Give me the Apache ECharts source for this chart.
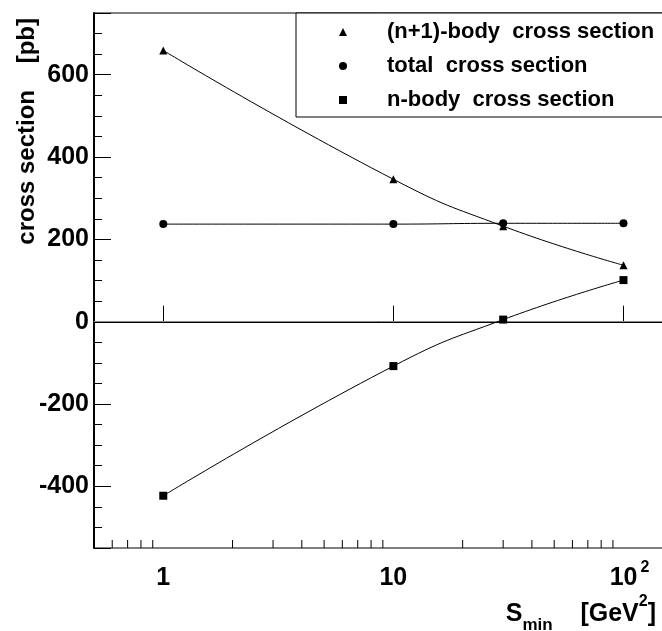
<!DOCTYPE html>
<html>
<head>
<meta charset="utf-8">
<script src="https://cdn.jsdelivr.net/npm/echarts@6/dist/echarts.min.js"></script>
<style>
html,body{margin:0;padding:0;background:#fff;}
#c{width:662px;height:631px;}
</style>
</head>
<body>
<div id="c"></div>
<script>
// ---- data ----
var sMin = [1, 10, 30, 100];
var nPlus1Body = [659, 346, 232, 137];
var totalXS = [237, 237, 239, 239];
var nBody = [-423, -108, 5, 101];
var seriesNames = ['(n+1)-body  cross section', 'total  cross section', 'n-body  cross section'];
var xMajorLabels = {1: '1', 10: '10', 100: '10^2'};
var xMinorTicks = [0.6, 0.7, 0.8, 0.9, 2, 3, 4, 5, 6, 7, 8, 9, 20, 30, 40, 50, 60, 70, 80, 90];
var yMin = -550, yMax = 750;

var FONT = '"Liberation Sans", Arial, Helvetica, sans-serif';
function pairs(xs, ys) { return xs.map(function (x, i) { return [x, ys[i]]; }); }

var chart = echarts.init(document.getElementById('c'), null, {renderer: 'canvas'});
var lineCommon = {
  type: 'line', smooth: true, symbolSize: 8, showSymbol: true,
  lineStyle: {color: '#000', width: 1}, itemStyle: {color: '#000'},
  emphasis: {disabled: true}, z: 3
};
chart.setOption({
  animation: false,
  backgroundColor: '#fff',
  grid: {left: 94, top: 13, width: 570, height: 535, show: true, borderColor: '#000', borderWidth: 1,
         containLabel: false, outerBoundsMode: 'none'},
  legend: {
    orient: 'vertical', left: 296, top: 13,
    padding: [8, 30, 6, 43],
    itemWidth: 8, itemHeight: 8, itemGap: 12,
    backgroundColor: '#fff', borderColor: '#000', borderWidth: 1, borderRadius: 0,
    selectedMode: false,
    formatter: function (name) { return '{gap| }' + name; },
    textStyle: {fontFamily: FONT, fontWeight: 'bold', fontSize: 22, color: '#000', lineHeight: 22,
      rich: {gap: {width: 35, fontSize: 22, lineHeight: 22}}},
    data: [
      {name: seriesNames[0], icon: 'triangle', itemStyle: {color: '#000'}},
      {name: seriesNames[1], icon: 'circle', itemStyle: {color: '#000'}},
      {name: seriesNames[2], icon: 'rect', itemStyle: {color: '#000'}}
    ]
  },
  xAxis: {
    type: 'log', logBase: 10, min: 0.5, max: 150,
    axisLine: {lineStyle: {color: '#000', width: 2}},
    axisTick: {inside: true, length: 16, lineStyle: {color: '#000', width: 1}},
    splitLine: {show: false},
    axisLabel: {
      margin: 12, color: '#000', fontFamily: FONT, fontWeight: 'bold', fontSize: 25,
      formatter: function (v) {
        for (var k in xMajorLabels) {
          if (Math.abs(v - Number(k)) < 1e-6 * Number(k)) {
            var t = xMajorLabels[k];
            if (t.indexOf('^') >= 0) { var p = t.split('^'); return '{pad| }{b|' + p[0] + '}{p|' + p[1] + '}'; }
            return '{b|' + t + '}';
          }
        }
        return '';
      },
      rich: {
        b: {fontFamily: FONT, fontWeight: 'bold', fontSize: 25, lineHeight: 36, color: '#000', verticalAlign: 'middle'},
        p: {fontFamily: FONT, fontWeight: 'bold', fontSize: 16, lineHeight: 10, color: '#000', verticalAlign: 'top', padding: [0, 0, 0, 3]},
        pad: {width: 12, fontSize: 10}
      }
    }
  },
  yAxis: [{
    type: 'value', min: yMin, max: yMax, minInterval: 200, maxInterval: 200,
    axisLine: {show: true, lineStyle: {color: '#000', width: 2}},
    axisTick: {inside: true, length: 17, lineStyle: {color: '#000', width: 1}},
    splitLine: {show: false},
    axisLabel: {
      margin: 5, color: '#000', fontFamily: FONT, fontWeight: 'bold', fontSize: 25,
      formatter: function (v) { return (Math.round(v) % 200 === 0) ? String(Math.round(v)) : ''; }
    }
  }, {
    type: 'value', min: yMin, max: yMax, interval: 50, position: 'left',
    axisLine: {show: false},
    axisTick: {show: true, inside: true, length: 8, lineStyle: {color: '#000', width: 1}},
    axisLabel: {show: false},
    splitLine: {show: false}
  }],
  graphic: [
    {type: 'text', x: 27, y: 18, rotation: Math.PI / 2,
     style: {text: 'cross section    [pb]', fontFamily: FONT, fontWeight: 'bold', fontSize: 24, fill: '#000', align: 'right', verticalAlign: 'middle'}},
    {type: 'text', x: 656, y: 614,
     style: {
       text: '{a|S}{s|min}{a|    [GeV}{p|2}{a|]}', align: 'right', verticalAlign: 'middle',
       rich: {
         a: {fontFamily: FONT, fontWeight: 'bold', fontSize: 25, lineHeight: 40, fill: '#000', verticalAlign: 'middle'},
         s: {fontFamily: FONT, fontWeight: 'bold', fontSize: 17, lineHeight: 17, fill: '#000', verticalAlign: 'bottom'},
         p: {fontFamily: FONT, fontWeight: 'bold', fontSize: 16, lineHeight: 10, fill: '#000', verticalAlign: 'top'}
       }
     }}
  ],
  series: [
    Object.assign({}, lineCommon, {name: seriesNames[0], symbol: 'triangle', data: pairs(sMin, nPlus1Body)}),
    Object.assign({}, lineCommon, {name: seriesNames[1], symbol: 'circle', data: pairs(sMin, totalXS)}),
    Object.assign({}, lineCommon, {name: seriesNames[2], symbol: 'rect', data: pairs(sMin, nBody),
      markLine: {silent: true, symbol: 'none', label: {show: false}, lineStyle: {color: '#888', width: 1, type: 'solid'},
        data: [{yAxis: 0}], z: 1}}),
    {
      type: 'custom', name: 'minor', silent: true, clip: false, z: 4,
      data: xMinorTicks.map(function (v) { return [v, yMin]; }),
      renderItem: function (params, api) {
        var p = api.coord([api.value(0), api.value(1)]);
        return {type: 'line', shape: {x1: p[0], y1: p[1], x2: p[0], y2: p[1] - 8}, style: {stroke: '#000', lineWidth: 1}};
      }
    }
  ]
});
</script>
</body>
</html>
